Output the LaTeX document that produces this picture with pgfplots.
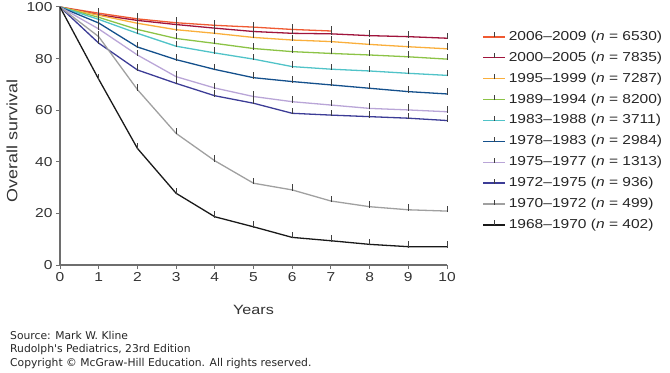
\documentclass[border=0pt]{standalone}
\usepackage{pgfplots}
\pgfplotsset{compat=1.18}
\usepackage{fontspec}
\setmainfont{Liberation Sans}[FakeStretch=1.2]
\newfontfamily\srcfont{DejaVu Sans}
\definecolor{c1}{RGB}{240,90,50}
\definecolor{c2}{RGB}{160,20,60}
\definecolor{c3}{RGB}{250,175,60}
\definecolor{c4}{RGB}{140,195,70}
\definecolor{c5}{RGB}{80,195,200}
\definecolor{c6}{RGB}{20,80,140}
\definecolor{c7}{RGB}{185,165,215}
\definecolor{c8}{RGB}{60,60,150}
\definecolor{c9}{RGB}{160,160,160}
\definecolor{c10}{RGB}{25,25,25}
\definecolor{axgray}{RGB}{110,110,110}
\pgfdeclareplotmark{uptick}{%
  \pgfpathmoveto{\pgfqpoint{0pt}{-1pt}}%
  \pgfpathlineto{\pgfqpoint{0pt}{5.5pt}}%
  \pgfusepathqstroke}
\begin{document}
\begin{tikzpicture}
\path[use as bounding box] (-60bp,-108bp) rectangle (610bp,265bp);
\begin{axis}[
  at={(0,0)}, anchor=origin,
  scale only axis, width=387bp, height=258bp,
  xmin=0, xmax=10, ymin=0, ymax=100,
  xtick={0,...,10}, ytick={0,20,...,100},
  axis x line*=bottom, axis y line*=left,
  axis line style={axgray, line width=1.3pt, -},
  tick style={axgray, line width=1pt},
  tick align=outside, major tick length=4bp,
  every tick label/.append style={font=\fontsize{13}{15}\selectfont, text=black!80},
  /pgf/number format/assume math mode=true,
  xlabel={Years}, ylabel={Overall survival},
  xlabel style={font=\fontsize{13.5}{15}\selectfont, text=black!80, at={(axis description cs:0.5,0)}, anchor=center, yshift=-45bp},
  ylabel style={font=\fontsize{15}{17}\selectfont, text=black!80, at={(axis description cs:-0.124,0.48)}, anchor=center},
  clip=false,
  every axis plot/.append style={line width=1.3pt, mark=uptick,
    mark options={draw=black!75, line width=0.8pt, solid}},
  legend cell align=left,
  legend style={draw=none, fill=none, at={(1.083,0.918)}, anchor=north west,
    font=\fontsize{13}{15}\selectfont, row sep=7.9bp, column sep=3bp,
    nodes={inner sep=0pt, text height=10bp, text depth=3bp, text=black!85}},
  legend image code/.code={%
    \draw[#1, mark=none, line width=1.5pt] (0bp,0bp) -- (22bp,0bp);
    \draw[black!75, line width=0.8pt] (11bp,-0.5bp) -- (11bp,4.5bp);},
]
\addplot[c1, mark indices={2,...,8}] coordinates {(0,100)(1,97.6)(2,95.4)(3,93.9)(4,92.9)(5,92.2)(6,91.3)(7,90.7)};
\addlegendentry{2006–2009 (\textit{n} = 6530)}
\addplot[c2, mark indices={2,...,11}] coordinates {(0,100)(1,97.0)(2,94.8)(3,93.2)(4,91.8)(5,90.5)(6,89.8)(7,89.6)(8,88.9)(9,88.5)(10,87.9)};
\addlegendentry{2000–2005 (\textit{n} = 7835)}
\addplot[c3, mark indices={2,...,11}] coordinates {(0,100)(1,96.8)(2,93.7)(3,91.2)(4,89.8)(5,88.2)(6,87.2)(7,86.6)(8,85.5)(9,84.6)(10,83.8)};
\addlegendentry{1995–1999 (\textit{n} = 7287)}
\addplot[c4, mark indices={2,...,11}] coordinates {(0,100)(1,96.0)(2,91.3)(3,87.8)(4,85.9)(5,83.9)(6,82.7)(7,82.0)(8,81.4)(9,80.7)(10,79.8)};
\addlegendentry{1989–1994 (\textit{n} = 8200)}
\addplot[c5, mark indices={2,...,11}] coordinates {(0,100)(1,95.2)(2,89.8)(3,84.8)(4,82.2)(5,79.8)(6,76.9)(7,75.9)(8,75.2)(9,74.3)(10,73.5)};
\addlegendentry{1983–1988 (\textit{n} = 3711)}
\addplot[c6, mark indices={2,...,11}] coordinates {(0,100)(1,93.8)(2,84.5)(3,79.6)(4,75.8)(5,72.6)(6,71.1)(7,69.8)(8,68.5)(9,67.2)(10,66.3)};
\addlegendentry{1978–1983 (\textit{n} = 2984)}
\addplot[c7, mark indices={2,...,11}] coordinates {(0,100)(1,91.5)(2,81.4)(3,73.0)(4,68.6)(5,65.3)(6,63.3)(7,62.0)(8,60.7)(9,60.1)(10,59.4)};
\addlegendentry{1975–1977 (\textit{n} = 1313)}
\addplot[c8, mark indices={2,...,11}] coordinates {(0,100)(1,86.0)(2,75.6)(3,70.4)(4,65.6)(5,62.7)(6,58.8)(7,58.1)(8,57.5)(9,56.9)(10,56.0)};
\addlegendentry{1972–1975 (\textit{n} = 936)}
\addplot[c9, mark indices={2,...,11}] coordinates {(0,100)(1,88.5)(2,68.0)(3,51.0)(4,40.4)(5,31.7)(6,29.1)(7,24.8)(8,22.6)(9,21.4)(10,20.9)};
\addlegendentry{1970–1972 (\textit{n} = 499)}
\addplot[c10, mark indices={2,...,11}] coordinates {(0,100)(1,72.0)(2,45.2)(3,27.8)(4,18.7)(5,14.8)(6,10.7)(7,9.4)(8,8.0)(9,7.1)(10,7.1)};
\addlegendentry{1968–1970 (\textit{n} = 402)}
\end{axis}
\node[anchor=north west, align=left, inner sep=0pt, font=\srcfont\fontsize{10.8}{13.6}\selectfont, text=black!85] at (-50bp,-66bp) {Source: Mark W. Kline\\Rudolph's Pediatrics, 23rd Edition\\Copyright © McGraw-Hill Education. All rights reserved.};
\end{tikzpicture}
\end{document}
